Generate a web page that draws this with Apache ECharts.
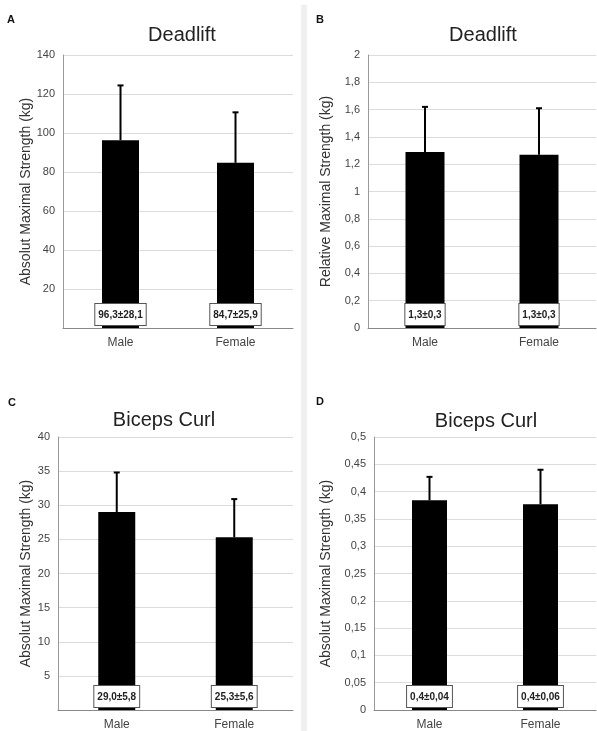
<!DOCTYPE html>
<html><head><meta charset="utf-8">
<script src="https://cdn.jsdelivr.net/npm/echarts@6/dist/echarts.min.js"></script>
<style>html,body{margin:0;padding:0;background:#fff}#c{width:597px;height:731px}</style>
</head><body><div id="c"></div>
<script>
// ---- data ----
const categories = ['Male', 'Female'];
const deadliftAbsMean = [96.3, 84.7];
const deadliftAbsSD = [28.1, 25.9];
const deadliftAbsLabels = ['96,3±28,1', '84,7±25,9'];
const deadliftRelMean = [1.29, 1.27];
const deadliftRelSD = [0.33, 0.34];
const deadliftRelLabels = ['1,3±0,3', '1,3±0,3'];
const bicepsAbsMean = [29.0, 25.3];
const bicepsAbsSD = [5.8, 5.6];
const bicepsAbsLabels = ['29,0±5,8', '25,3±5,6'];
const bicepsRelMean = [0.384, 0.377];
const bicepsRelSD = [0.043, 0.063];
const bicepsRelLabels = ['0,4±0,04', '0,4±0,06'];
const panelTitles = ['Deadlift', 'Deadlift', 'Biceps Curl', 'Biceps Curl'];
const panelLetters = ['A', 'B', 'C', 'D'];
const yNames = ['Absolut Maximal Strength (kg)', 'Relative Maximal Strength (kg)', 'Absolut Maximal Strength (kg)', 'Absolut Maximal Strength (kg)'];
const yAxisSpecs = [
  {max: 140, interval: 20, showZero: false},
  {max: 2, interval: 0.2, showZero: true},
  {max: 40, interval: 5, showZero: false},
  {max: 0.5, interval: 0.05, showZero: true}
];

const panels = [
  {mean: deadliftAbsMean, sd: deadliftAbsSD, labels: deadliftAbsLabels},
  {mean: deadliftRelMean, sd: deadliftRelSD, labels: deadliftRelLabels},
  {mean: bicepsAbsMean, sd: bicepsAbsSD, labels: bicepsAbsLabels},
  {mean: bicepsRelMean, sd: bicepsRelSD, labels: bicepsRelLabels}
];

// ---- layout ----
const grids = [
  {left: 63, right: 304, top: 55, bottom: 403},
  {left: 368, right: 1, top: 55, bottom: 403},
  {left: 58, right: 304, top: 437, bottom: 21},
  {left: 374, right: 1, top: 437, bottom: 21}
];
const nameGaps = [30, 35, 25, 41];
const titlePos = [[177, 20], [478, 20], [159, 405], [481, 406]];
const letterPos = [[7, 14], [316, 14], [8, 397], [316, 396]];
const barWidths = [37, 39, 37, 35];

const FONT = '"Liberation Sans", Arial, sans-serif';

function fmtTick(v, showZero) {
  const n = Number(v.toFixed(3));
  if (n === 0 && !showZero) return '';
  return String(n).replace('.', ',');
}

const option = {
  animation: false,
  backgroundColor: '#fff',
  title: panelTitles.map((t, i) => ({
    text: t, left: titlePos[i][0], top: titlePos[i][1], textAlign: 'center',
    textStyle: {fontFamily: FONT, fontSize: 20, fontWeight: 'normal', color: '#222'}
  })),
  graphic: [
    {type: 'rect', shape: {x: 301, y: 5, width: 6, height: 726}, style: {fill: '#f0f0f0'}, z: -1},
    ...panelLetters.map((l, i) => ({
      type: 'text', left: letterPos[i][0], top: letterPos[i][1],
      style: {text: l, font: 'bold 11px ' + FONT, fill: '#111'}
    }))
  ],
  grid: grids,
  xAxis: grids.map((g, i) => ({
    type: 'category', gridIndex: i, data: categories,
    axisTick: {show: false},
    axisLine: {lineStyle: {color: '#888', width: 1}},
    axisLabel: {fontFamily: FONT, fontSize: 12, color: '#444', margin: 9}
  })),
  yAxis: yAxisSpecs.map((s, i) => ({
    type: 'value', gridIndex: i, min: 0, max: s.max, interval: s.interval,
    name: yNames[i], nameLocation: 'middle', nameGap: nameGaps[i],
    nameTextStyle: {fontFamily: FONT, fontSize: 14, color: '#333'},
    axisLine: {show: true, lineStyle: {color: '#999'}},
    axisTick: {show: false},
    splitLine: {lineStyle: {color: '#dcdcdc'}},
    axisLabel: {fontFamily: FONT, fontSize: 11, color: '#444', margin: 8,
      formatter: v => fmtTick(v, s.showZero)}
  })),
  series: []
};

panels.forEach((p, i) => {
  option.series.push({
    type: 'bar', xAxisIndex: i, yAxisIndex: i,
    data: p.mean, barWidth: barWidths[i],
    itemStyle: {color: '#000'},
    label: {
      show: true, position: 'insideBottom', distance: 3,
      formatter: params => p.labels[params.dataIndex],
      fontFamily: FONT, fontWeight: 'bold', fontSize: 10, color: '#222',
      backgroundColor: '#fff', borderColor: '#555', borderWidth: 1,
      padding: [6, 3, 5, 3]
    },
    z: 2
  });
  option.series.push({
    type: 'custom', xAxisIndex: i, yAxisIndex: i,
    data: p.mean.map((m, k) => [k, m, p.sd[k]]),
    renderItem: (params, api) => {
      const base = api.coord([api.value(0), api.value(1)]);
      const top = api.coord([api.value(0), api.value(1) + api.value(2)]);
      return {type: 'group', children: [
        {type: 'line', shape: {x1: base[0], y1: base[1], x2: top[0], y2: top[1]}, style: {stroke: '#000', lineWidth: 2}},
        {type: 'line', shape: {x1: top[0] - 3, y1: top[1], x2: top[0] + 3, y2: top[1]}, style: {stroke: '#000', lineWidth: 2}}
      ]};
    },
    z: 3
  });
});

const chart = echarts.init(document.getElementById('c'));
chart.setOption(option);
</script>
</body></html>
